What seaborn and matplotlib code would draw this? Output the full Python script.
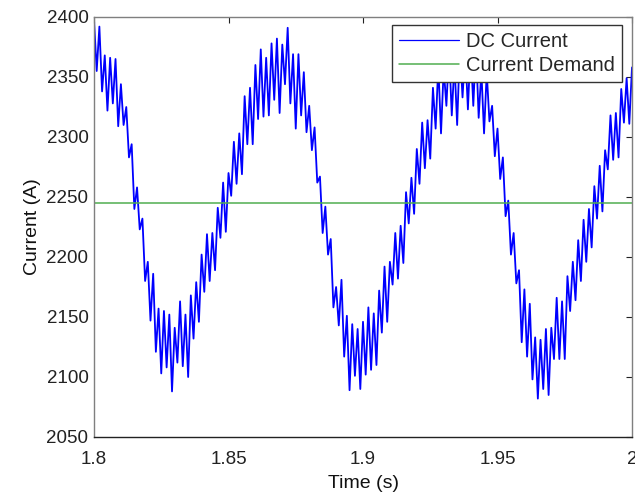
import numpy as np
import pandas as pd
import matplotlib
matplotlib.use("Agg")
import matplotlib.pyplot as plt
import seaborn as sns

# Measured DC link current, one sample per millisecond from 1.800 s to 2.000 s
dc_current = [
    2398, 2355, 2392, 2338, 2368, 2322, 2366, 2328, 2365, 2309,
    2344, 2310, 2325, 2283, 2294, 2240, 2258, 2223, 2232, 2180,
    2196, 2147, 2186, 2121, 2157, 2103, 2155, 2108, 2152, 2088,
    2141, 2112, 2163, 2109, 2152, 2100, 2168, 2132, 2179, 2146,
    2202, 2171, 2219, 2180, 2220, 2189, 2241, 2216, 2262, 2221,
    2270, 2251, 2296, 2261, 2303, 2269, 2334, 2294, 2341, 2294,
    2360, 2315, 2373, 2317, 2366, 2318, 2378, 2331, 2382, 2320,
    2377, 2344, 2391, 2328, 2369, 2307, 2369, 2318, 2354, 2304,
    2326, 2289, 2308, 2262, 2267, 2220, 2242, 2202, 2215, 2158,
    2175, 2143, 2181, 2117, 2151, 2089, 2144, 2101, 2140, 2090,
    2146, 2102, 2158, 2106, 2153, 2110, 2172, 2137, 2192, 2146,
    2196, 2177, 2220, 2182, 2226, 2195, 2254, 2228, 2266, 2236,
    2290, 2261, 2312, 2274, 2314, 2282, 2341, 2307, 2360, 2303,
    2357, 2326, 2373, 2318, 2362, 2310, 2375, 2333, 2373, 2323,
    2376, 2326, 2376, 2316, 2355, 2303, 2354, 2313, 2326, 2284,
    2307, 2265, 2283, 2234, 2247, 2202, 2220, 2178, 2189, 2129,
    2173, 2117, 2161, 2098, 2133, 2082, 2131, 2090, 2140, 2085,
    2141, 2115, 2166, 2115, 2163, 2115, 2184, 2155, 2196, 2164,
    2214, 2180, 2231, 2196, 2240, 2208, 2259, 2232, 2276, 2238,
    2289, 2273, 2318, 2281, 2320, 2283, 2340, 2312, 2349, 2311,
    2358,
]
t_first, t_last = 1.8, 2.0
current_demand = 2245

series_names = ["DC Current", "Current Demand"]
x_ticks = [1.8, 1.85, 1.9, 1.95, 2.0]
x_tick_labels = ["1.8", "1.85", "1.9", "1.95", "2"]
y_ticks = [2050, 2100, 2150, 2200, 2250, 2300, 2350, 2400]

time_s = np.linspace(t_first, t_last, len(dc_current))
df = pd.DataFrame({"Time (s)": time_s, "Current (A)": dc_current})

sns.set_style("white")
plt.rcParams["font.family"] = ["Liberation Sans", "DejaVu Sans"]

fig = plt.figure(figsize=(6.35, 4.98), dpi=100)
ax = fig.add_axes([94 / 635, 1 - 437 / 498, 538 / 635, 420 / 498])

sns.lineplot(data=df, x="Time (s)", y="Current (A)", ax=ax,
             color="#0000ff", linewidth=1.3, estimator=None,
             label=series_names[0])
ax.axhline(current_demand, color="#4fae4f", linewidth=1.1,
           label=series_names[1])

ax.set_xlim(t_first, t_last)
ax.set_ylim(2050, 2400)
ax.set_xticks(x_ticks)
ax.set_xticklabels(x_tick_labels)
ax.set_yticks(y_ticks)

ax.tick_params(axis="both", direction="in", length=4, width=0.8,
               labelsize=13.5, colors="#222222", pad=4,
               top=True, right=True)
ax.tick_params(axis="x", pad=10)
for name, sp in ax.spines.items():
    sp.set_visible(True)
    sp.set_linewidth(1.0)
    sp.set_color("#222222" if name == "bottom" else "#7f7f7f")

ax.set_xlabel("Time (s)", fontsize=14, labelpad=5, color="#111111")
ax.set_ylabel("Current (A)", fontsize=14, labelpad=4, color="#111111")

leg = ax.legend(loc="upper right", bbox_to_anchor=(0.9814, 0.981),
                borderaxespad=0, fontsize=14.5, frameon=True, fancybox=False,
                framealpha=1, facecolor="white", edgecolor="#333333",
                handlelength=3.0, handletextpad=0.35, labelspacing=0.25,
                borderpad=0.35)
leg.get_frame().set_linewidth(1.0)
leg.get_lines()[0].set_linewidth(0.9)
leg.set_zorder(5)

fig.savefig("out.png", dpi=100)
